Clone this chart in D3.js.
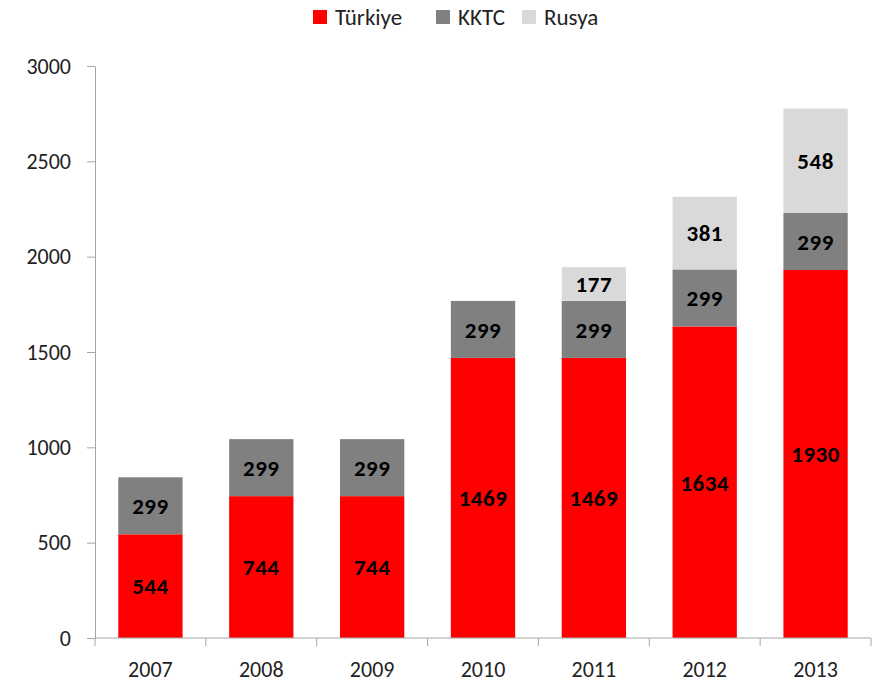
<!DOCTYPE html>
<html>
<head>
<meta charset="utf-8">
<script src="https://cdn.jsdelivr.net/npm/d3@7"></script>
<style>
  body { margin: 0; background: #fff; }
  text { font-family: Carlito, Calibri, Lato, sans-serif; }
</style>
</head>
<body>
<div id="chart"></div>
<script>
// chart values
const years = ["2007", "2008", "2009", "2010", "2011", "2012", "2013"];
const turkiye = [544, 744, 744, 1469, 1469, 1634, 1930];
const kktc = [299, 299, 299, 299, 299, 299, 299];
const rusya = [0, 0, 0, 0, 177, 381, 548];
const seriesNames = ["Türkiye", "KKTC", "Rusya"];
const yTicks = [0, 500, 1000, 1500, 2000, 2500, 3000];

const width = 873;
const height = 685;

const color = d3.scaleOrdinal()
    .domain(seriesNames)
    .range(["#ff0000", "#808080", "#d9d9d9"]);

const rows = years.map((y, i) => ({
    year: y, "Türkiye": turkiye[i], "KKTC": kktc[i], "Rusya": rusya[i]
}));

const stack = d3.stack().keys(seriesNames);
const layers = stack(rows);

const x = d3.scaleBand()
    .domain(years)
    .range([95, 871])
    .paddingInner(0.42)
    .paddingOuter(0.21);

const y = d3.scaleLinear()
    .domain([0, 3000])
    .range([638, 66]);

const svg = d3.select("#chart")
    .append("svg")
    .attr("width", width)
    .attr("height", height);

// bars
const layer = svg.selectAll(".layer")
    .data(layers)
    .enter()
    .append("g")
    .attr("class", "layer")
    .attr("fill", (d) => color(d.key));

layer.selectAll("rect")
    .data((d) => d)
    .enter()
    .append("rect")
    .attr("x", (d) => x(d.data.year))
    .attr("y", (d) => y(d[1]))
    .attr("width", x.bandwidth())
    .attr("height", (d) => y(d[0]) - y(d[1]));

// value labels
layers.forEach((l) => {
    svg.append("g")
        .selectAll("text")
        .data(l.filter((d) => d[1] - d[0] > 0))
        .enter()
        .append("text")
        .attr("x", (d) => x(d.data.year) + x.bandwidth() / 2)
        .attr("y", (d) => y((d[0] + d[1]) / 2))
        .attr("dy", "0.36em")
        .attr("text-anchor", "middle")
        .attr("style", "font-size: 23px; font-weight: bold; letter-spacing: 0.5px;")
        .attr("fill", "#000")
        .text((d) => d[1] - d[0]);
});

// y axis
const yAxis = svg.append("g")
    .attr("transform", "translate(95,0)")
    .call(d3.axisLeft(y).tickValues(yTicks).tickFormat(d3.format("d"))
        .tickSize(8).tickPadding(16).tickSizeOuter(0));
yAxis.selectAll("text").attr("style", "font-size: 22px;").attr("fill", "#222");
yAxis.selectAll("line, path").attr("stroke", "#a6a6a6");

// x axis
const xAxis = svg.append("g")
    .attr("transform", "translate(0,638)");
xAxis.append("line")
    .attr("x1", 95).attr("x2", 871)
    .attr("stroke", "#a6a6a6");
xAxis.selectAll(".tk")
    .data(d3.range(years.length + 1))
    .enter()
    .append("line")
    .attr("x1", (i) => 95 + i * x.step())
    .attr("x2", (i) => 95 + i * x.step())
    .attr("y1", 0).attr("y2", 8)
    .attr("stroke", "#a6a6a6");
xAxis.selectAll(".lbl")
    .data(years)
    .enter()
    .append("text")
    .attr("x", (d) => x(d) + x.bandwidth() / 2)
    .attr("y", 39)
    .attr("text-anchor", "middle")
    .attr("style", "font-size: 22px;")
    .attr("fill", "#222")
    .text((d) => d);

// legend
const legendX = [313, 436, 522];
const legend = svg.append("g");
seriesNames.forEach((name, i) => {
    legend.append("rect")
        .attr("x", legendX[i]).attr("y", 10)
        .attr("width", 14).attr("height", 14)
        .attr("fill", color(name));
    legend.append("text")
        .attr("x", legendX[i] + 22).attr("y", 17)
        .attr("dy", "0.36em")
        .attr("style", "font-size: 23px;")
        .attr("fill", "#222")
        .text(name);
});
</script>
</body>
</html>
